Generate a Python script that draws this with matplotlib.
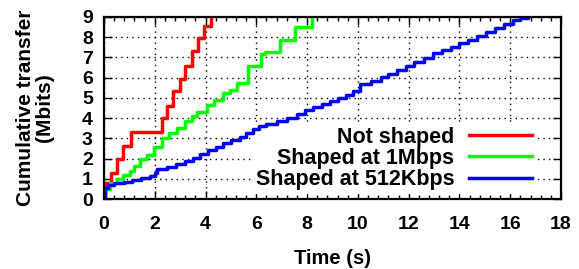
import matplotlib
matplotlib.use("Agg")
import matplotlib.pyplot as plt
from matplotlib.ticker import MultipleLocator

plt.rcParams['font.family'] = ['Liberation Sans', 'DejaVu Sans']
plt.rcParams['font.weight'] = 'bold'

# step data (time in s, cumulative Mbits)
t_not = [0, 0.05, 0.29, 0.52, 0.76, 1.05, 2.27, 2.5, 2.73, 2.99, 3.19, 3.45, 3.71, 3.93, 4.2]
y_not = [0, 0.8, 1.3, 1.96, 2.64, 3.3, 4.0, 4.6, 5.32, 5.94, 6.57, 7.3, 7.96, 8.55, 9.3]

t_1m = [0, 0.05, 0.24, 0.5, 0.75, 1.02, 1.2, 1.42, 1.7, 1.95, 2.27, 2.55, 2.86, 3.2,
        3.45, 3.65, 4.04, 4.35, 4.7, 4.96, 5.25, 5.68, 6.2, 6.35, 6.93, 7.52, 8.18]
y_1m = [0, 0.5, 0.8, 1.0, 1.2, 1.4, 1.65, 1.96, 2.2, 2.55, 3.0, 3.25, 3.5, 3.85,
        4.1, 4.3, 4.65, 4.9, 5.23, 5.41, 5.75, 6.6, 7.15, 7.25, 7.85, 8.5, 9.3]

t_512 = [0, 0.03, 0.15, 0.4, 0.8, 1.1, 1.45, 1.8, 2.0, 2.1, 2.5, 2.85, 3.2, 3.5, 3.8,
         4.1, 4.4, 4.7, 5.0, 5.35, 5.6, 5.85, 6.1, 6.4, 6.8, 7.2, 7.6, 7.9, 8.25, 8.6,
         8.9, 9.2, 9.55, 9.8, 10.1, 10.5, 10.9, 11.2, 11.55, 11.9, 12.2, 12.6, 12.95,
         13.3, 13.65, 14.0, 14.35, 14.7, 15.05, 15.4, 15.75, 16.1, 16.4, 16.7]
y_512 = [0, 0.55, 0.7, 0.8, 0.85, 0.95, 1.05, 1.12, 1.3, 1.5, 1.6, 1.75, 1.9, 2.05, 2.25,
         2.4, 2.55, 2.75, 2.9, 3.05, 3.25, 3.45, 3.6, 3.7, 3.85, 4.0, 4.2, 4.4, 4.55, 4.7,
         4.85, 5.0, 5.15, 5.35, 5.7, 5.85, 6.05, 6.2, 6.4, 6.6, 6.75, 6.95, 7.2,
         7.35, 7.5, 7.7, 7.85, 8.05, 8.25, 8.45, 8.65, 8.85, 8.95, 9.0]

labels = ["Not shaped", "Shaped at 1Mbps", "Shaped at 512Kbps"]
colors = ["#ff0000", "#00ff00", "#0000ff"]

fig = plt.figure(figsize=(5.79, 2.69), dpi=100)
ax = fig.add_axes([0.1796, 0.26, 0.7894, 0.677])
ax.set_axisbelow(True)

for t, y, lab, c in zip([t_not, t_1m, t_512], [y_not, y_1m, y_512], labels, colors):
    ax.step(t, y, where='post', color=c, lw=2.5, label=lab, zorder=3)

ax.set_xlim(0, 18)
ax.set_ylim(0, 9)
ax.xaxis.set_major_locator(MultipleLocator(2))
ax.xaxis.set_minor_locator(MultipleLocator(0.4))
ax.yaxis.set_major_locator(MultipleLocator(1))
ax.tick_params(which='both', direction='in', top=True, right=True, labelsize=14, width=1)
ax.tick_params(which='major', length=6)
ax.tick_params(axis='x', which='major', pad=12)
ax.tick_params(axis='y', which='major', pad=8)
ax.tick_params(which='minor', length=3)
ax.grid(True, which='major', color='black', linestyle=(0, (1, 3)), lw=1)
for s in ax.spines.values():
    s.set_linewidth(1.6)
    s.set_zorder(4)

ax.set_xlabel("Time (s)", fontsize=14.5, fontweight='bold', labelpad=12)
ax.set_ylabel("Cumulative transfer\n(Mbits)", fontsize=15, fontweight='bold',
              labelpad=20, linespacing=1.0)

leg = ax.legend(loc='lower right', bbox_to_anchor=(0.955, 0.0), markerfirst=False,
                fontsize=15.5, frameon=True, fancybox=False, framealpha=1,
                edgecolor='white', facecolor='white',
                handlelength=2.9, labelspacing=0.02, borderpad=0.1,
                borderaxespad=0.3, handletextpad=0.7)
leg.set_zorder(2)
for txt in leg.get_texts():
    txt.set_ha('right')
leg._legend_box.align = 'right'

fig.savefig("out.png", dpi=100)
